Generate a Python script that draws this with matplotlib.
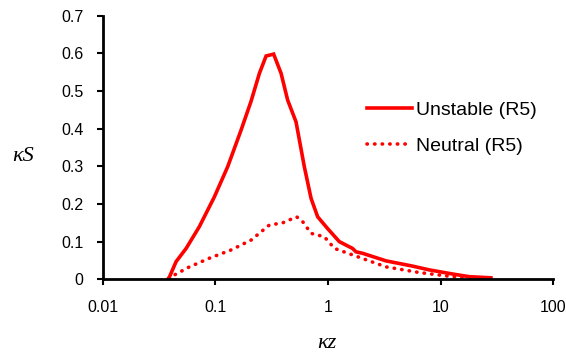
import matplotlib
matplotlib.use("Agg")
import matplotlib.pyplot as plt
from matplotlib.ticker import FixedLocator, NullLocator, FixedFormatter

# data
unstable_kz = [0.0383, 0.0448, 0.055, 0.0721, 0.098, 0.1286, 0.169, 0.207, 0.246,
               0.282, 0.329, 0.383, 0.438, 0.52, 0.616, 0.707, 0.809, 0.99,
               1.26, 1.65, 1.77, 2.03, 3.27, 5.64, 7.92, 12.8, 17.9, 27.9]
unstable_ks = [0.0, 0.047, 0.082, 0.14, 0.219, 0.299, 0.396, 0.472, 0.547,
               0.593, 0.598, 0.547, 0.476, 0.418, 0.299, 0.215, 0.166, 0.135,
               0.1, 0.082, 0.073, 0.069, 0.049, 0.035, 0.025, 0.014, 0.007, 0.004]

neutral_kz = [0.0383, 0.0588, 0.0885, 0.138, 0.207, 0.301, 0.396, 0.526, 0.596,
              0.707, 0.927, 1.14, 1.83, 3.27, 6.46, 12.8, 23.5]
neutral_ks = [0.003, 0.033, 0.056, 0.078, 0.104, 0.144, 0.15, 0.166, 0.153,
              0.122, 0.113, 0.082, 0.06, 0.033, 0.018, 0.007, 0.003]

xticks = [0.01, 0.1, 1, 10, 100]
xticklabels = ["0.01", "0.1", "1", "10", "100"]
yticks = [0, 0.1, 0.2, 0.3, 0.4, 0.5, 0.6, 0.7]
yticklabels = ["0", "0.1", "0.2", "0.3", "0.4", "0.5", "0.6", "0.7"]

plt.rcParams["font.family"] = ["Liberation Sans", "DejaVu Sans"]

fig = plt.figure(figsize=(5.66, 3.55), dpi=100)
ax = fig.add_axes([0.1815, 0.2132, 0.7961, 0.7426])

ax.plot(unstable_kz, unstable_ks, color="#ff0000", lw=2.6, label="Unstable (R5)",
        solid_joinstyle="miter")
ax.plot(neutral_kz, neutral_ks, color="#ff0000", lw=2.6, linestyle=(0, (0.1, 2.0)),
        dash_capstyle="round", label="Neutral (R5)")

ax.set_xscale("log")
ax.set_xlim(0.01, 100)
ax.set_ylim(0, 0.7)
ax.xaxis.set_major_locator(FixedLocator(xticks))
ax.xaxis.set_major_formatter(FixedFormatter(xticklabels))
ax.xaxis.set_minor_locator(NullLocator())
ax.set_yticks(yticks)
ax.set_yticklabels(yticklabels)

for s in ["top", "right"]:
    ax.spines[s].set_visible(False)
for s in ["left", "bottom"]:
    ax.spines[s].set_linewidth(2)
    ax.spines[s].set_color("black")
ax.tick_params(axis="both", direction="out", length=4, width=1.5, labelsize=11.5,
               colors="black")
ax.tick_params(axis="y", pad=10)
ax.tick_params(axis="x", pad=11)

label_font = dict(family=["Liberation Serif", "DejaVu Serif"], style="italic", size=16)
fig.text(0.04, 0.56, "κS", ha="center", va="center", **label_font)
fig.text(0.578, 0.033, "κz", ha="center", va="center", **label_font)

ax.legend(loc="upper left", bbox_to_anchor=(0.586, 0.6755), frameon=False, fontsize=14,
          handlelength=2.33, handletextpad=0.22, labelspacing=0.95,
          borderpad=0, borderaxespad=0)

fig.savefig("out.png", dpi=100)
